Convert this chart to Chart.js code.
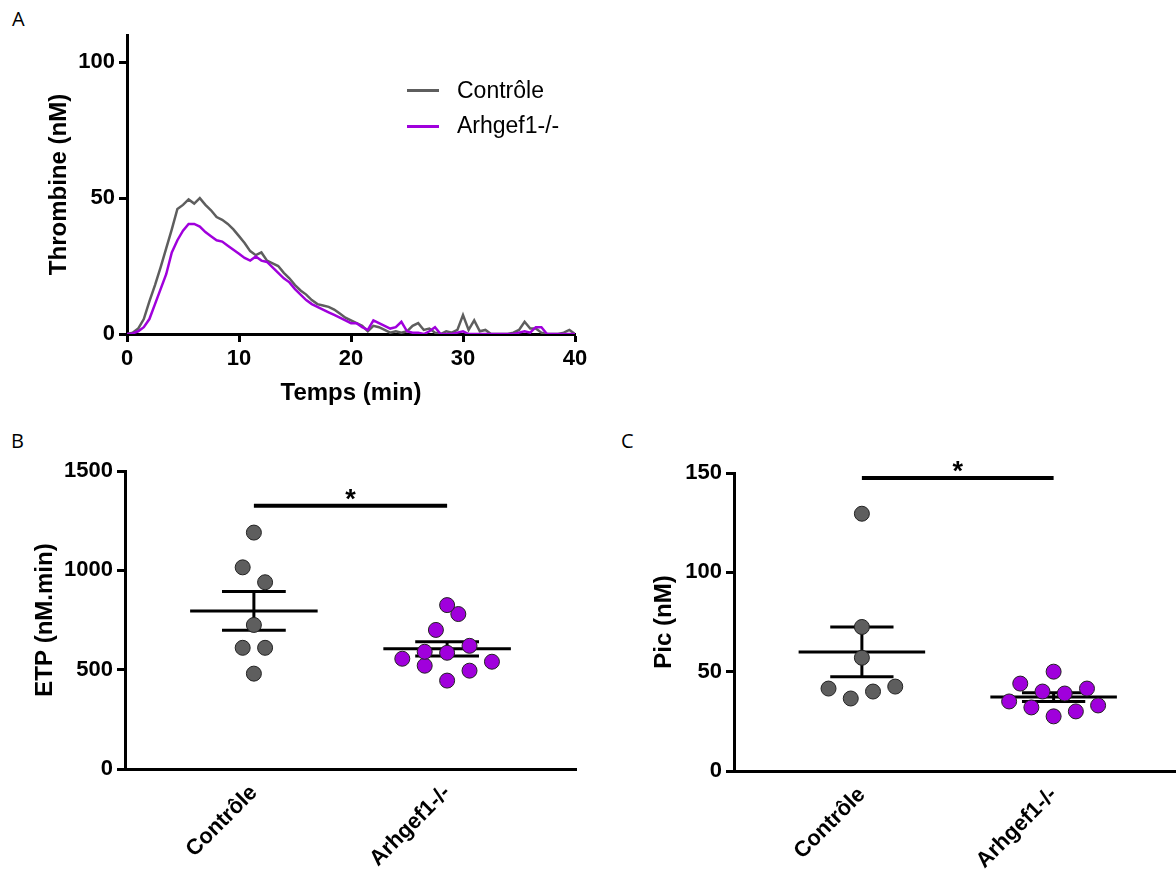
<!DOCTYPE html>
<html>
<head>
<meta charset="utf-8">
<title>Génération de thrombine</title>
<script src="https://cdn.jsdelivr.net/npm/chart.js@4.4.1/dist/chart.umd.min.js"></script>
<style>
  body { margin: 0; width: 1176px; height: 872px; overflow: hidden; background: #fff; }
  .panel { position: absolute; }
  .letter { position: absolute; font-family: "Open Sans", sans-serif; font-size: 20px; line-height: 20px; color: #000; }
  .leg-line { position: absolute; width: 32px; height: 3px; }
  .leg-text { position: absolute; font-family: "Liberation Sans", Arial, sans-serif; font-size: 23px; line-height: 23px; color: #000; white-space: nowrap; }
</style>
</head>
<body>

<div class="letter" style="left:12px;top:9px">A</div>
<div class="letter" style="left:11px;top:431px">B</div>
<div class="letter" style="left:621px;top:431px">C</div>

<div class="panel" style="left:0;top:0"><canvas id="chartA" width="600" height="420"></canvas></div>
<div class="panel" style="left:0;top:420px"><canvas id="chartB" width="600" height="452"></canvas></div>
<div class="panel" style="left:600px;top:420px"><canvas id="chartC" width="590" height="452"></canvas></div>

<!-- legend of panel A -->
<div class="leg-line" style="left:407px;top:89px;background:#5e5e5e"></div>
<div class="leg-text" style="left:457px;top:79px">Contrôle</div>
<div class="leg-line" style="left:407px;top:125px;background:#a000dc"></div>
<div class="leg-text" style="left:457px;top:114px">Arhgef1-/-</div>

<script>
// ---------- panel A : thrombin generation (nM) vs time (min) ----------
const tempsMin = [
  0, 0.5, 1, 1.5, 2, 2.5, 3, 3.5, 4, 4.5,
  5, 5.5, 6, 6.5, 7, 7.5, 8, 8.5, 9, 9.5,
  10, 10.5, 11, 11.5, 12, 12.5, 13, 13.5, 14, 14.5,
  15, 15.5, 16, 16.5, 17, 17.5, 18, 18.5, 19, 19.5,
  20, 20.5, 21, 21.5, 22, 22.5, 23, 23.5, 24, 24.5,
  25, 25.5, 26, 26.5, 27, 27.5, 28, 28.5, 29, 29.5,
  30, 30.5, 31, 31.5, 32, 32.5, 33, 33.5, 34, 34.5,
  35, 35.5, 36, 36.5, 37, 37.5, 38, 38.5, 39, 39.5,
  40
];
const thrombineControle = [
  0, 0.5, 2, 5.5, 12, 18, 24.5, 31.5, 38.5, 46,
  47.5, 49.5, 48, 50, 47.5, 45.5, 43, 42, 40.5, 38.5,
  36, 33.5, 30.5, 29, 30, 27, 26, 25, 22.5, 20.5,
  18, 16, 14.5, 12.5, 11, 10.5, 10, 9, 7.5, 6,
  5, 4, 3, 1, 3, 2.5, 1.5, 0.5, 1, 0.5,
  1, 3, 4, 1.5, 2, 0.5, 0, 1, 0.5, 1.5,
  7, 1.5, 5, 1, 1.5, 0, 0, 0, 0, 0.5,
  1.5, 4.5, 2, 2, 0.5, 0, 0, 0, 0.5, 1.5,
  0
];
const thrombineArhgef1 = [
  0, 0.2, 1, 2.5, 5.5, 11, 16.5, 22, 30, 34.5,
  38, 40.5, 40.5, 39.5, 37.5, 36, 34.5, 34, 32.5, 31,
  29.5, 28, 27, 28.5, 27, 26.5, 24.5, 22.5, 20.5, 19,
  16.5, 14.5, 12.5, 11, 10, 9, 8, 7, 6, 5,
  4, 4, 2.5, 1.5, 5, 4, 3, 2, 2.5, 4.5,
  1, 0.5, 0.5, 0, 1, 2.5, 0, 0, 0, 0.5,
  1, 0, 0, 0, 0, 0, 0, 0, 0, 0,
  0.5, 1, 0.5, 2.5, 2.5, 0, 0, 0, 0, 0,
  0
];
const xTicksA = [0, 10, 20, 30, 40];
const yTicksA = [0, 50, 100];

// ---------- panels B and C : individual values, mean +/- SEM ----------
const groupes = ['Contrôle', 'Arhgef1-/-'];
const etpControle = [1190, 1015, 940, 725, 610, 610, 480];
const etpArhgef1 = [825, 700, 780, 555, 590, 585, 620, 540, 520, 445, 495];
const picControle = [129.5, 72.5, 57, 41.5, 36.5, 40, 42.5];
const picArhgef1 = [50, 44, 40, 39, 41.5, 35, 32, 27.5, 30, 33];
const yTicksB = [0, 500, 1000, 1500];
const yTicksC = [0, 50, 100, 150];
// height of the "p < 0.05" bar
const sigEtp = 1325;
const sigPic = 147.5;

const GREY = '#5e5e5e';
const PURPLE = '#a000dc';
const FONT = '"Liberation Sans", Arial, sans-serif';

Chart.defaults.font.family = FONT;
Chart.defaults.color = '#000';

const tickFont = { size: 22, weight: 'bold' };
const titleFont = { size: 24, weight: 'bold' };

function fixedTicks(list) {
  return axis => { axis.ticks = list.map(v => ({ value: v })); };
}
// plain numbers, no thousands separator
const plainLabel = v => String(v);

// ---- panel A ----
new Chart(document.getElementById('chartA'), {
  type: 'scatter',
  data: {
    datasets: [
      {
        label: 'Arhgef1-/-',
        data: tempsMin.map((t, i) => ({ x: t, y: thrombineArhgef1[i] })),
        showLine: true, borderColor: PURPLE, borderWidth: 2.5, pointRadius: 0, order: 0
      },
      {
        label: 'Contrôle',
        data: tempsMin.map((t, i) => ({ x: t, y: thrombineControle[i] })),
        showLine: true, borderColor: GREY, borderWidth: 2.5, pointRadius: 0, order: 1
      }
    ]
  },
  options: {
    responsive: false,
    animation: false,
    layout: { padding: { top: 35, right: 25, left: 0, bottom: 0 } },
    plugins: { legend: { display: false }, tooltip: { enabled: false } },
    scales: {
      x: {
        type: 'linear', min: 0, max: 40,
        afterBuildTicks: fixedTicks(xTicksA),
        grid: { drawOnChartArea: false, color: '#000', tickLength: 8, tickWidth: 3 },
        border: { color: '#000', width: 3 },
        ticks: { font: tickFont, padding: 4, maxRotation: 0, callback: plainLabel },
        title: { display: true, text: 'Temps (min)', font: titleFont, padding: { bottom: 12 } },
        afterFit: s => { s.height = 86; }
      },
      y: {
        min: 0, max: 110,
        afterBuildTicks: fixedTicks(yTicksA),
        grid: { drawOnChartArea: false, color: '#000', tickLength: 8, tickWidth: 3 },
        border: { color: '#000', width: 3 },
        ticks: { font: tickFont, padding: 4, callback: plainLabel },
        title: { display: true, text: 'Thrombine (nM)', font: titleFont, padding: { top: 45 } },
        afterFit: s => { s.width = 127; }
      }
    }
  }
});

// ---- helpers for the dot plots ----

// dots close in value share one row, spread left to right in data order
const DOT_STEP = 0.116;
function spreadColumn(values, center, binHeight) {
  const order = values.map((v, i) => i).sort((a, b) => values[a] - values[b]);
  const bins = [];
  let current = null;
  order.forEach(i => {
    if (!current || values[i] - values[current[0]] > binHeight) {
      current = [i];
      bins.push(current);
    } else {
      current.push(i);
    }
  });
  const pts = [];
  bins.forEach(bin => {
    bin.sort((a, b) => a - b);
    bin.forEach((idx, k) => {
      pts.push({ x: center + (k - (bin.length - 1) / 2) * DOT_STEP, y: values[idx] });
    });
  });
  return pts;
}

function meanSem(values) {
  const n = values.length;
  const mean = values.reduce((a, b) => a + b, 0) / n;
  const sd = Math.sqrt(values.reduce((a, v) => a + (v - mean) ** 2, 0) / (n - 1));
  return { mean, sem: sd / Math.sqrt(n) };
}

function segment(points, width) {
  return {
    data: points, showLine: true, pointRadius: 0,
    borderColor: '#000', borderWidth: width, order: 1
  };
}

// mean line, SEM whisker and its two caps
function meanSemDatasets(values, c) {
  const { mean, sem } = meanSem(values);
  return [
    segment([{ x: c - 0.33, y: mean }, { x: c + 0.33, y: mean }], 3),
    segment([{ x: c - 0.165, y: mean + sem }, { x: c + 0.165, y: mean + sem }], 3),
    segment([{ x: c - 0.165, y: mean - sem }, { x: c + 0.165, y: mean - sem }], 3),
    segment([{ x: c, y: mean - sem }, { x: c, y: mean + sem }], 3)
  ];
}

const starPlugin = {
  id: 'etoile',
  afterDatasetsDraw(chart, args, opts) {
    const { ctx, scales: { x, y } } = chart;
    ctx.save();
    ctx.font = 'bold 27px ' + FONT;
    ctx.textAlign = 'center';
    ctx.textBaseline = 'alphabetic';
    ctx.fillStyle = '#000';
    ctx.fillText('*', x.getPixelForValue(0.5), y.getPixelForValue(opts.level) + 2);
    ctx.restore();
  }
};

function dotPlot(canvasId, ctrl, ko, yMax, yTicks, yTitle, sigLevel, box) {
  const binHeight = yMax * 0.057;
  const dotStyle = { borderColor: '#222', borderWidth: 1, pointRadius: 7.5, order: 0 };
  return new Chart(document.getElementById(canvasId), {
    type: 'scatter',
    data: {
      datasets: [
        Object.assign({ data: spreadColumn(ctrl, 0, binHeight), backgroundColor: GREY }, dotStyle),
        Object.assign({ data: spreadColumn(ko, 1, binHeight), backgroundColor: PURPLE }, dotStyle),
        ...meanSemDatasets(ctrl, 0),
        ...meanSemDatasets(ko, 1),
        segment([{ x: 0, y: sigLevel }, { x: 1, y: sigLevel }], 4)
      ]
    },
    options: {
      responsive: false,
      animation: false,
      layout: { padding: { top: box.top, right: box.right, left: 0, bottom: 0 } },
      plugins: { legend: { display: false }, tooltip: { enabled: false }, etoile: { level: sigLevel } },
      scales: {
        x: {
          type: 'linear', min: -0.667, max: 1.667,
          afterBuildTicks: fixedTicks([0, 1]),
          grid: { display: false },
          border: { color: '#000', width: 3 },
          ticks: {
            font: { size: 22, weight: 'bold' }, padding: 3,
            minRotation: 45, maxRotation: 45, autoSkip: false,
            callback: v => groupes[v]
          },
          afterFit: s => { s.height = box.xHeight; }
        },
        y: {
          min: 0, max: yMax,
          afterBuildTicks: fixedTicks(yTicks),
          grid: { drawOnChartArea: false, color: '#000', tickLength: 8, tickWidth: 3 },
          border: { color: '#000', width: 3 },
          ticks: { font: tickFont, padding: 4, callback: plainLabel },
          title: { display: true, text: yTitle, font: titleFont, padding: { top: box.titlePad } },
          afterFit: s => { s.width = box.yWidth; }
        }
      }
    },
    plugins: [starPlugin]
  });
}

dotPlot('chartB', etpControle, etpArhgef1, 1500, yTicksB, 'ETP (nM.min)', sigEtp,
  { top: 51, right: 24, xHeight: 103, yWidth: 125, titlePad: 31 });
dotPlot('chartC', picControle, picArhgef1, 150, yTicksC, 'Pic (nM)', sigPic,
  { top: 53, right: 8, xHeight: 101, yWidth: 134, titlePad: 50 });
</script>
</body>
</html>
